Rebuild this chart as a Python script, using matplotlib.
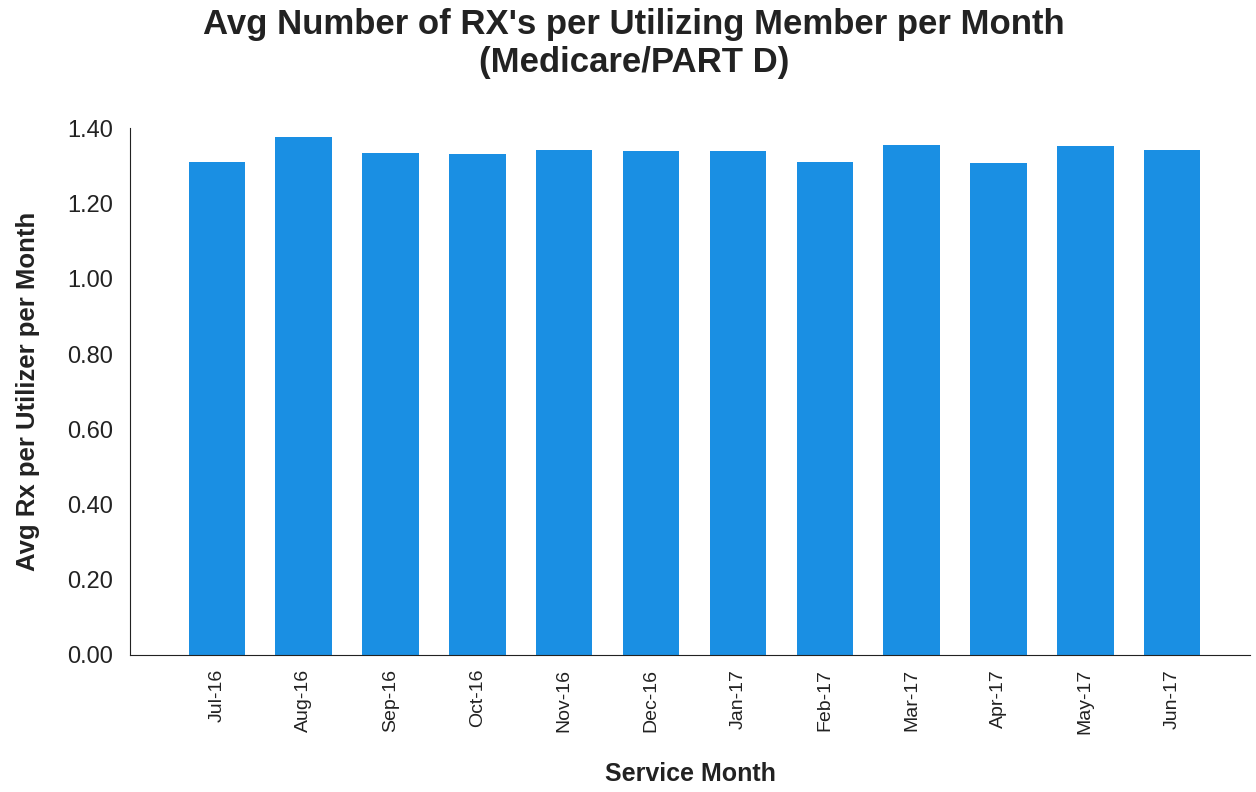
import matplotlib.pyplot as plt

months = ["Jul-16", "Aug-16", "Sep-16", "Oct-16", "Nov-16", "Dec-16",
          "Jan-17", "Feb-17", "Mar-17", "Apr-17", "May-17", "Jun-17"]
avg_rx = [1.31, 1.376, 1.334, 1.331, 1.342, 1.339,
          1.339, 1.31, 1.355, 1.307, 1.352, 1.342]

plt.rcParams['font.family'] = ['Liberation Sans', 'DejaVu Sans']

fig = plt.figure(figsize=(12.56, 7.92), dpi=100)
ax = fig.add_axes([0.1035, 0.173, 0.892, 0.665])

x = range(len(months))
ax.bar(x, avg_rx, width=0.65, color="#1a8fe3")

ax.set_xlim(-1.0, 11.9)
ax.set_ylim(0, 1.40)
ax.set_yticks([i * 0.2 for i in range(8)])
ax.set_yticklabels([f"{i * 0.2:.2f}" for i in range(8)], fontsize=17, color="#222222")
ax.set_xticks(list(x))
ax.set_xticklabels(months, rotation=90, fontsize=14, color="#222222")
ax.tick_params(axis="both", length=0)
ax.tick_params(axis="x", pad=10)
ax.tick_params(axis="y", pad=12)

for side in ["top", "right"]:
    ax.spines[side].set_visible(False)
ax.spines["left"].set_color("#222222")
ax.spines["bottom"].set_color("#222222")

ax.set_xlabel("Service Month", fontsize=18, fontweight="bold", color="#222222", labelpad=20)
ax.set_ylabel("Avg Rx per Utilizer per Month", fontsize=18.5, fontweight="bold", color="#222222", labelpad=20)
fig.suptitle("Avg Number of RX's per Utilizing Member per Month\n(Medicare/PART D)",
             fontsize=25, fontweight="bold", color="#222222", x=0.505, y=0.99)

fig.savefig("out.png", dpi=100)
